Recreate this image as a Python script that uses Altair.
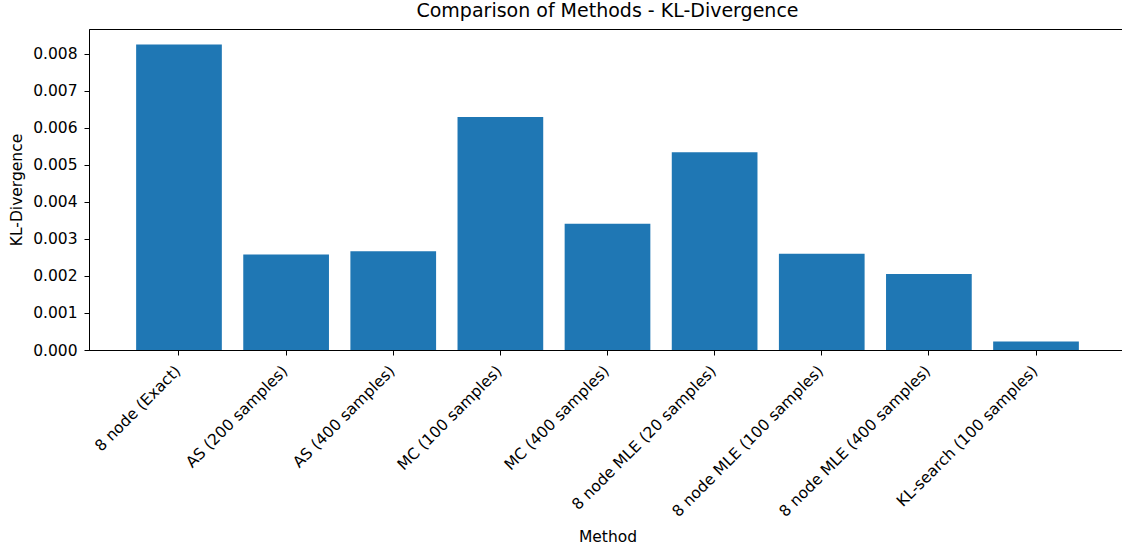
import altair as alt
import pandas as pd

methods = [
    "8 node (Exact)",
    "AS (200 samples)",
    "AS (400 samples)",
    "MC (100 samples)",
    "MC (400 samples)",
    "8 node MLE (20 samples)",
    "8 node MLE (100 samples)",
    "8 node MLE (400 samples)",
    "KL-search (100 samples)",
]
kl_values = [0.00825, 0.00258, 0.00267, 0.00629, 0.00341, 0.00534, 0.00260, 0.00205, 0.00023]
y_ticks = [0.000, 0.001, 0.002, 0.003, 0.004, 0.005, 0.006, 0.007, 0.008]

df = pd.DataFrame({"Method": methods, "KL": kl_values})

FONT = "DejaVu Sans"
LABEL_SIZE = 15.5

bars = alt.Chart(df).mark_bar(color="#1f77b4").encode(
    x=alt.X(
        "Method:N",
        sort=methods,
        scale=alt.Scale(paddingInner=0.2, paddingOuter=0.44),
        axis=alt.Axis(
            title="Method",
            labelAngle=-45,
            labelAlign="right",
            labelBaseline="top",
            labelFontSize=LABEL_SIZE,
            labelColor="#000000",
            labelFont=FONT,
            labelPadding=8,
            labelOffset=-6,
            labelLimit=0,
            tickSize=5,
            tickColor="#000000",
            domainColor="#000000",
            titleFont=FONT,
            titleFontSize=LABEL_SIZE,
            titleFontWeight="normal",
            titleColor="#000000",
            titleBaseline="alphabetic",
            titleY=191,
            grid=False,
        ),
    ),
    y=alt.Y(
        "KL:Q",
        scale=alt.Scale(domain=[0, 0.00867], nice=False, zero=True),
        axis=alt.Axis(
            title="KL-Divergence",
            values=y_ticks,
            format=".3f",
            labelFontSize=LABEL_SIZE,
            labelColor="#000000",
            labelFont=FONT,
            labelPadding=7,
            tickSize=5,
            tickColor="#000000",
            domainColor="#000000",
            titleFont=FONT,
            titleFontSize=LABEL_SIZE,
            titleFontWeight="normal",
            titleColor="#000000",
            titlePadding=8,
            grid=False,
        ),
    ),
)

chart = bars.properties(
    width=1037,
    height=321,
    title=alt.TitleParams(
        "Comparison of Methods - KL-Divergence",
        font=FONT,
        fontSize=19,
        fontWeight="normal",
        color="#000000",
        anchor="middle",
        offset=8,
    ),
    autosize=alt.AutoSizeParams(type="none"),
    padding={"left": 89, "top": 29, "right": -4, "bottom": 198},
).configure_view(
    stroke="#000000",
    strokeWidth=1,
).configure_axis(
    domainWidth=1,
    tickWidth=1,
)

chart.save("out.html", embed_options={"renderer": "svg", "actions": False})
